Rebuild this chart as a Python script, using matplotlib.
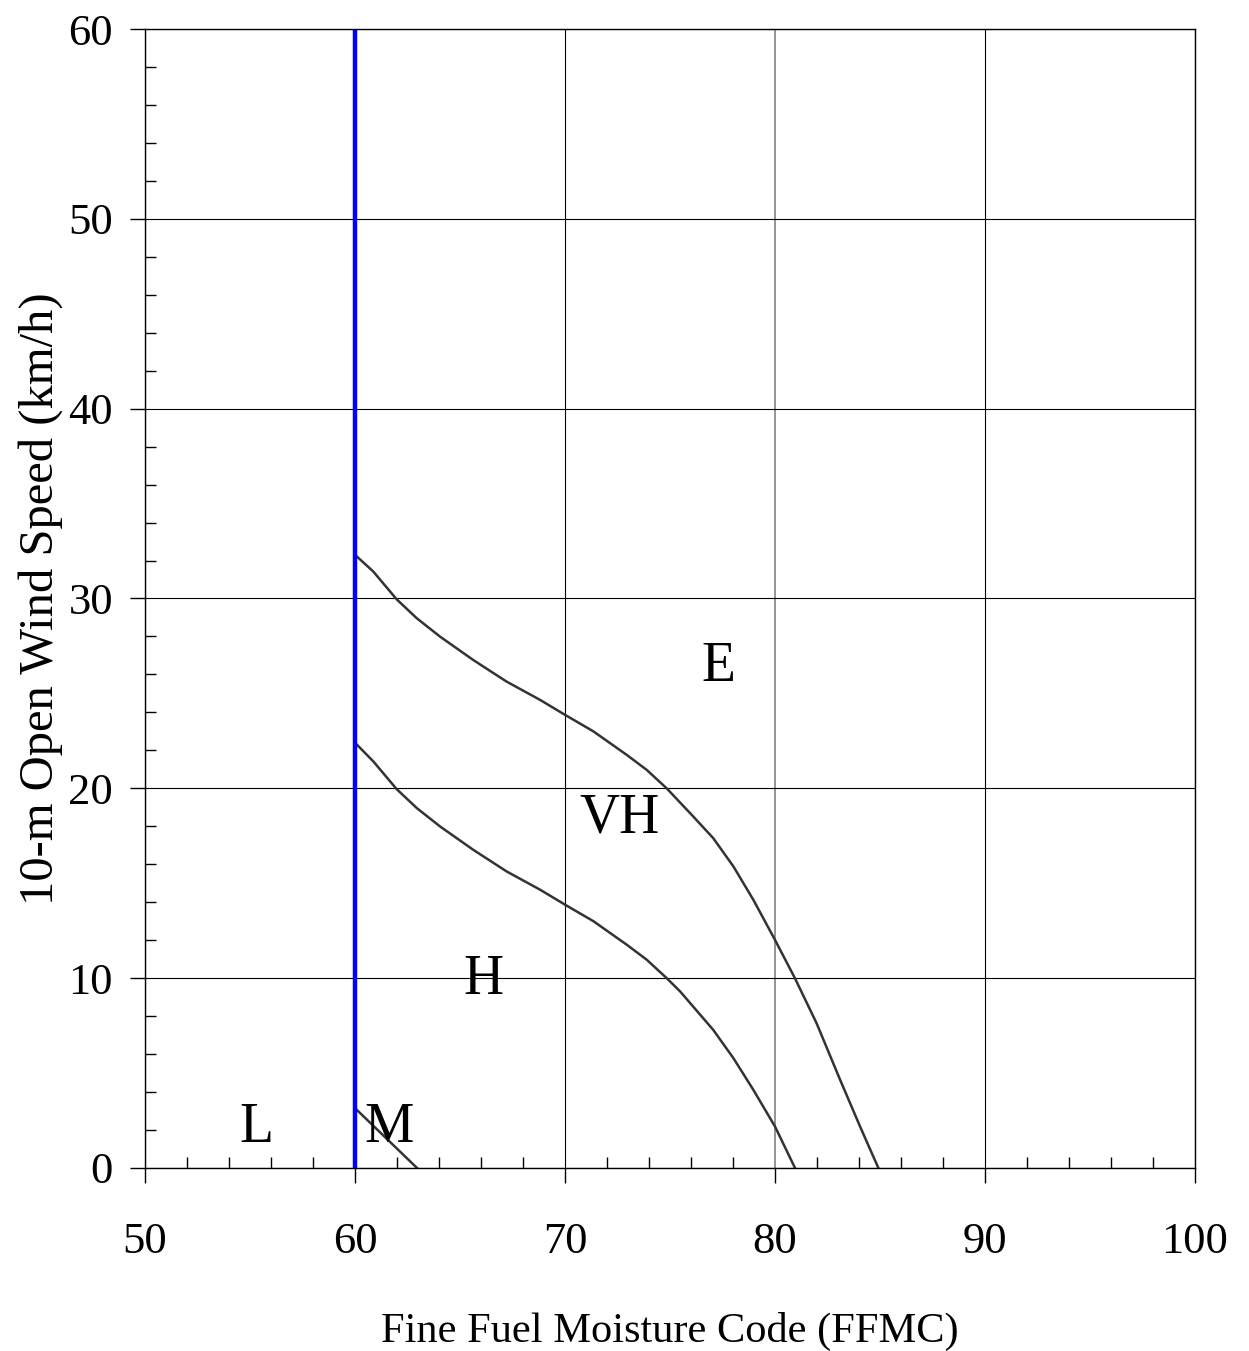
import numpy as np
import matplotlib.pyplot as plt
from matplotlib.ticker import MultipleLocator

plt.rcParams['font.family'] = ['Liberation Serif', 'DejaVu Serif']

# E / VH boundary
upper_x = [60.0, 60.87, 61.98, 62.94, 64.05, 65.63, 67.22, 68.81, 70.0, 71.35, 72.94,
           73.89, 74.84, 76.11, 77.06, 78.02, 78.97, 80.0, 80.95, 81.98, 83.10, 84.05, 84.92]
upper_y = [32.3, 31.42, 29.96, 28.96, 27.99, 26.76, 25.62, 24.66, 23.87, 23.0, 21.76,
           20.97, 20.0, 18.51, 17.37, 15.88, 14.12, 12.01, 9.99, 7.62, 4.64, 2.18, 0.0]
# VH / H boundary
lower_x = [60.0, 60.87, 61.98, 62.94, 64.05, 65.63, 67.22, 68.81, 70.0, 71.35, 72.94,
           73.89, 74.84, 75.48, 77.06, 78.02, 78.97, 80.0, 80.95]
lower_y = [22.4, 21.42, 19.96, 18.96, 17.99, 16.76, 15.62, 14.66, 13.87, 13.0, 11.76,
           10.97, 10.0, 9.30, 7.27, 5.78, 4.11, 2.18, 0.0]
# M boundary
m_x = [60.0, 62.95]
m_y = [3.15, 0.0]

# class labels
class_names = ['E', 'VH', 'H', 'L', 'M']
class_x = [77.3, 72.6, 66.1, 55.3, 61.6]
class_y = [26.4, 18.4, 9.9, 2.1, 2.1]

fig = plt.figure(figsize=(12.49, 13.51), dpi=100)
ax = fig.add_axes([0.1161, 0.1355, 0.8407, 0.843])

ax.set_xlim(50, 100)
ax.set_ylim(0, 60)

ax.xaxis.set_major_locator(MultipleLocator(10))
ax.xaxis.set_minor_locator(MultipleLocator(2))
ax.yaxis.set_major_locator(MultipleLocator(10))
ax.yaxis.set_minor_locator(MultipleLocator(2))

ax.grid(True, which='major', color='black', linewidth=0.8)
ax.set_axisbelow(True)
# the 80 line is drawn grey in the original
for v, gl in zip(ax.get_xticks(), ax.get_xgridlines()):
    if v == 80:
        gl.set_color('#8c8c8c')
        gl.set_linewidth(1.3)

ax.plot(upper_x, upper_y, color='#333333', linewidth=1.8)
ax.plot(lower_x, lower_y, color='#333333', linewidth=1.8)
ax.plot(m_x, m_y, color='#333333', linewidth=1.8)
ax.axvline(60, color='#0000ff', linewidth=3.2)

for name, x, y in zip(class_names, class_x, class_y):
    ax.text(x, y, name, fontsize=40, ha='center', va='center')

ax.tick_params(which='major', direction='out', length=11, width=1, labelsize=32)
ax.tick_params(which='minor', direction='in', length=8, width=1)
ax.tick_params(axis='x', which='major', pad=28)
ax.tick_params(axis='y', which='major', pad=12)

for s in ax.spines.values():
    s.set_linewidth(1)

ax.set_xlabel('Fine Fuel Moisture Code (FFMC)', fontsize=30.5, labelpad=36)
ax.set_ylabel('10-m Open Wind Speed (km/h)', fontsize=35, labelpad=4)

fig.savefig('out.png', dpi=100)
